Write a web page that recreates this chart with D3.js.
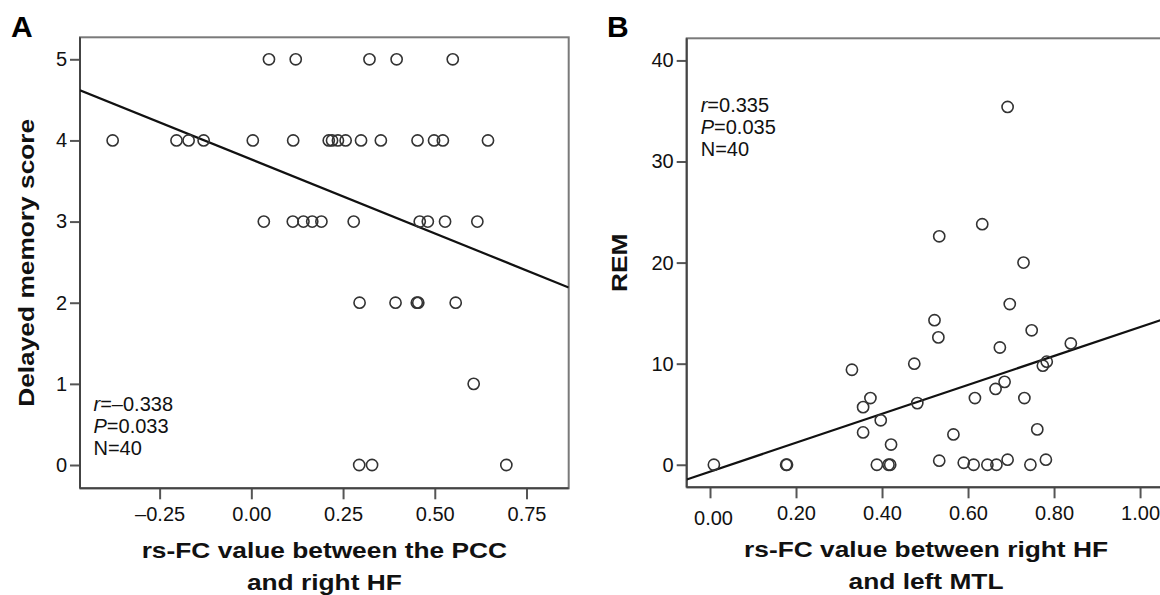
<!DOCTYPE html>
<html>
<head>
<meta charset="utf-8">
<script src="https://cdn.jsdelivr.net/npm/d3@7"></script>
<style>
  html, body { margin: 0; padding: 0; background: #fff; }
  svg { display: block; font-family: "Liberation Sans", Arial, sans-serif; }
</style>
</head>
<body>
<svg id="chart" width="1160" height="595"></svg>
<script>
// ---------- Panel A data ----------
const rsfcA = [
  0.048, 0.121, 0.322, 0.396, 0.549,
  -0.378, -0.204, -0.171, -0.130, 0.004, 0.114, 0.211, 0.220, 0.236, 0.257, 0.299, 0.353, 0.453, 0.498, 0.522, 0.645,
  0.034, 0.113, 0.142, 0.166, 0.191, 0.279, 0.459, 0.481, 0.528, 0.616,
  0.295, 0.393, 0.451, 0.455, 0.557,
  0.606,
  0.294, 0.329, 0.695
];
const memoryA = [
  5, 5, 5, 5, 5,
  4, 4, 4, 4, 4, 4, 4, 4, 4, 4, 4, 4, 4, 4, 4, 4,
  3, 3, 3, 3, 3, 3, 3, 3, 3, 3,
  2, 2, 2, 2, 2,
  1,
  0, 0, 0
];
const fitA = [3.766, -1.824];           // intercept, slope
const xTicksA = [-0.25, 0, 0.25, 0.5, 0.75];
const yTicksA = [0, 1, 2, 3, 4, 5];
const statsA = [["r", "=–0.338"], ["P", "=0.033"], ["", "N=40"]];
const xTitleA = ["rs-FC value between the PCC", "and right HF"];
const yTitleA = "Delayed memory score";

// ---------- Panel B data ----------
const rsfcB = [
  0.692, 0.633, 0.533, 0.729,
  0.697, 0.522, 0.748, 0.531, 0.674, 0.839, 0.475, 0.330, 0.774, 0.783, 0.685, 0.664,
  0.373, 0.616, 0.731, 0.356, 0.482, 0.397, 0.356, 0.761, 0.566, 0.421,
  0.009, 0.177, 0.179, 0.388, 0.415, 0.419, 0.533, 0.590, 0.613, 0.645, 0.666, 0.692, 0.745, 0.781
];
const remB = [
  35.4, 23.8, 22.6, 20.0,
  15.9, 14.3, 13.3, 12.6, 11.6, 12.0, 10.0, 9.4, 9.8, 10.2, 8.2, 7.5,
  6.6, 6.6, 6.6, 5.7, 6.1, 4.4, 3.2, 3.5, 3.0, 2.0,
  0, 0, 0, 0, 0, 0, 0.4, 0.2, 0, 0, 0, 0.5, 0, 0.5
];
const fitB = [-0.68, 14.3];
const xTicksB = [0, 0.2, 0.4, 0.6, 0.8, 1.0];
const yTicksB = [0, 10, 20, 30, 40];
const statsB = [["r", "=0.335"], ["P", "=0.035"], ["", "N=40"]];
const xTitleB = ["rs-FC value between right HF", "and left MTL"];
const yTitleB = "REM";

const svg = d3.select("#chart");
const fmt2 = d => d3.format(".2f")(Math.abs(d)).replace(/^/, d < 0 ? "–" : "");

function panel(cfg) {
  const { left, right, top, bottom } = cfg.box;
  const x = d3.scaleLinear().domain(cfg.xDomain).range([left, right]);
  const y = d3.scaleLinear().domain(cfg.yDomain).range([bottom, top]);
  const g = svg.append("g");

  // clip
  const cid = "clip" + cfg.label;
  svg.append("clipPath").attr("id", cid)
    .append("rect").attr("x", left).attr("y", top).attr("width", right - left).attr("height", bottom - top);

  // frame
  g.append("rect").attr("x", left).attr("y", top).attr("width", right - left).attr("height", bottom - top)
    .attr("fill", "none").attr("stroke", "#7a7a7a").attr("stroke-width", 2);

  // axes
  const ax = g.append("g").attr("transform", `translate(0,${bottom})`)
    .call(d3.axisBottom(x).tickValues(cfg.xTicks).tickFormat(fmt2).tickSize(11).tickPadding(8));
  const ay = g.append("g").attr("transform", `translate(${left},0)`)
    .call(d3.axisLeft(y).tickValues(cfg.yTicks).tickFormat(d3.format("d")).tickSize(10).tickPadding(3));
  [ax, ay].forEach(a => {
    a.select(".domain").remove();
    a.selectAll(".tick line").attr("stroke", "#555").attr("stroke-width", 2);
    a.selectAll(".tick text").attr("fill", "#111").style("font-size", "20px")
      .style("font-family", '"Liberation Sans", Arial, sans-serif');
  });
  if (cfg.firstXLabelShift) {
    ax.select(".tick text").attr("dy", "0.95em").attr("dx", "3");
  }
  // dark axis lines
  g.append("line").attr("x1", left).attr("x2", left).attr("y1", top).attr("y2", bottom)
    .attr("stroke", "#444").attr("stroke-width", 2);
  g.append("line").attr("x1", left).attr("x2", right).attr("y1", bottom).attr("y2", bottom)
    .attr("stroke", "#444").attr("stroke-width", 2);

  const plot = g.append("g").attr("clip-path", `url(#${cid})`);
  // regression line
  const xd = cfg.xDomain;
  plot.append("line")
    .attr("x1", x(xd[0])).attr("y1", y(cfg.fit[0] + cfg.fit[1] * xd[0]))
    .attr("x2", x(xd[1])).attr("y2", y(cfg.fit[0] + cfg.fit[1] * xd[1]))
    .attr("stroke", "#111").attr("stroke-width", 2.2);

  // points
  plot.selectAll("circle").data(cfg.xs.map((v, i) => [v, cfg.ys[i]])).join("circle")
    .attr("cx", d => x(d[0])).attr("cy", d => y(d[1])).attr("r", 5.6)
    .attr("fill", "none").attr("stroke", "#333").attr("stroke-width", 1.6);

  // stats text
  const st = g.append("text").attr("x", cfg.statsX).attr("y", cfg.statsY)
    .style("font-size", "20px").attr("fill", "#111");
  cfg.stats.forEach((s, i) => {
    if (s[0]) {
      st.append("tspan").attr("x", cfg.statsX).attr("dy", i === 0 ? 0 : 22)
        .style("font-style", "italic").text(s[0]);
      st.append("tspan").text(s[1]);
    } else {
      st.append("tspan").attr("x", cfg.statsX).attr("dy", i === 0 ? 0 : 22).text(s[1]);
    }
  });

  // titles
  const cx = (left + right) / 2;
  cfg.xTitle.forEach((t, i) => {
    g.append("text")
      .attr("transform", `translate(${cfg.xTitleCenter || cx},${cfg.xTitleY + i * 31.7}) scale(1.17,1)`)
      .attr("text-anchor", "middle").style("font-size", "22.5px").style("font-weight", "bold")
      .attr("fill", "#111").text(t);
  });
  g.append("text")
    .attr("transform", `translate(${cfg.yTitleX},${(top + bottom) / 2}) rotate(-90) scale(1.17,1)`)
    .attr("text-anchor", "middle").style("font-size", "22.5px").style("font-weight", "bold")
    .attr("fill", "#111").text(cfg.yTitle);

  // panel label
  g.append("text").attr("x", cfg.labelX).attr("y", 36.7)
    .style("font-size", "30px").style("font-weight", "bold").attr("fill", "#000").text(cfg.label);
}

panel({
  label: "A", labelX: 11,
  box: { left: 80, right: 568.7, top: 37.3, bottom: 488.3 },
  xDomain: [-0.467, 0.865], yDomain: [-0.287, 5.271],
  xTicks: xTicksA, yTicks: yTicksA,
  xs: rsfcA, ys: memoryA, fit: fitA,
  stats: statsA, statsX: 93.5, statsY: 410.5,
  xTitle: xTitleA, xTitleY: 558.3, yTitle: yTitleA, yTitleX: 33.5
});

panel({
  label: "B", labelX: 607,
  box: { left: 686.7, right: 1165, top: 38.3, bottom: 487.3 },
  xDomain: [-0.0542, 1.058], yDomain: [-2.23, 42.19],
  xTicks: xTicksB, yTicks: yTicksB,
  xs: rsfcB, ys: remB, fit: fitB,
  stats: statsB, statsX: 700.7, statsY: 111.7,
  xTitle: xTitleB, xTitleY: 557.3, xTitleCenter: 926, yTitle: yTitleB, yTitleX: 627,
  firstXLabelShift: true
});
</script>
</body>
</html>
